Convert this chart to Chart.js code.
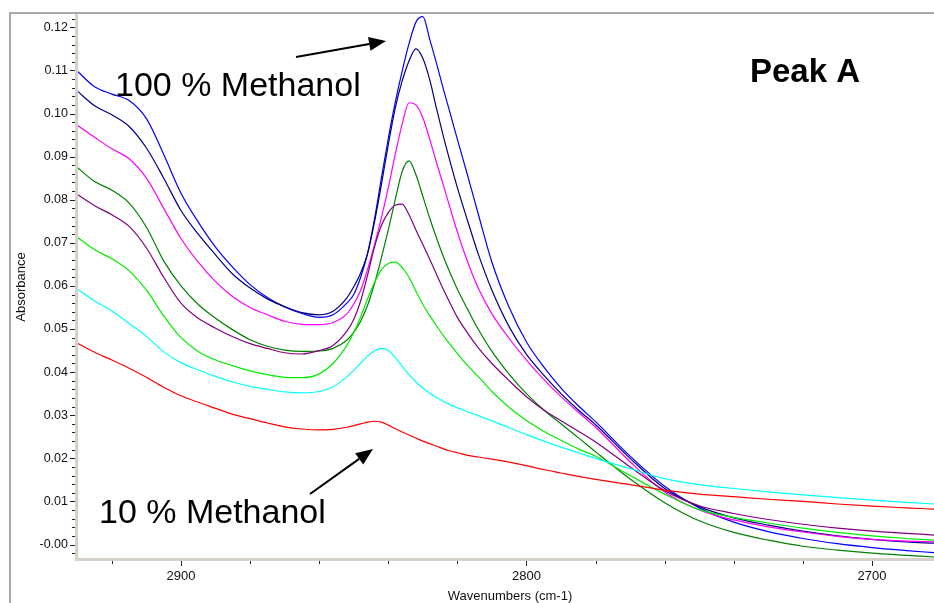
<!doctype html>
<html lang="en">
  <head>
    <meta charset="utf-8">
    <title>Peak A - Absorbance vs Wavenumbers</title>
    <style>
      * {
        margin: 0;
        padding: 0;
      }
      body {
        background: #fff;
      }
      .chartBox {
        width: 934px;
        height: 603px;
      }
    </style>
  </head>
  <body>
    <div class="chartBox">
      <canvas id="myChart"></canvas>
    </div>
    <script src="https://cdn.jsdelivr.net/npm/chart.js"></script>
    <script>
    // setup
    const wavenumbers = [2930, 2925, 2920, 2915, 2910, 2905, 2900, 2895, 2890, 2885, 2880, 2875, 2870, 2865, 2860, 2856, 2852,
      2850, 2848, 2846, 2844, 2842, 2840, 2838, 2836, 2834, 2832, 2830, 2828, 2826, 2824, 2822, 2820,
      2817, 2814, 2810, 2805, 2800, 2795, 2790, 2785, 2780, 2770, 2760, 2750, 2740, 2730, 2720, 2710, 2700, 2690, 2682];

    const absBlue = [0.1098, 0.1062, 0.1045, 0.1030, 0.0988, 0.0905, 0.0815, 0.0748, 0.0690, 0.0643, 0.0603, 0.0573, 0.0551, 0.0536, 0.0527, 0.0533, 0.0560,
      0.0580, 0.0620, 0.0675, 0.0755, 0.0850, 0.0942, 0.1025, 0.1098, 0.1162, 0.1212, 0.1225, 0.1172, 0.1115, 0.1055, 0.0998, 0.0940,
      0.0855, 0.0768, 0.0655, 0.0550, 0.0470, 0.0412, 0.0363, 0.0322, 0.0285, 0.0205, 0.0135, 0.0085, 0.0052, 0.0030, 0.0014, 0.0002, -0.0007, -0.0014, -0.0019];

    const absNavy = [0.1052, 0.1018, 0.0997, 0.0970, 0.0920, 0.0850, 0.0775, 0.0720, 0.0672, 0.0627, 0.0595, 0.0570, 0.0552, 0.0538, 0.0533, 0.0541, 0.0572,
      0.0598, 0.0630, 0.0675, 0.0748, 0.0835, 0.0928, 0.1012, 0.1075, 0.1122, 0.1150, 0.1128, 0.1078, 0.1010, 0.0945, 0.0885, 0.0828,
      0.0750, 0.0675, 0.0590, 0.0505, 0.0441, 0.0393, 0.0350, 0.0312, 0.0278, 0.0200, 0.0130, 0.0088, 0.0062, 0.0045, 0.0031, 0.0020, 0.0012, 0.0006, 0.0003];

    const absMagenta = [0.0973, 0.0945, 0.0918, 0.0895, 0.0850, 0.0780, 0.0710, 0.0655, 0.0610, 0.0575, 0.0550, 0.0533, 0.0518, 0.0511, 0.0510, 0.0515, 0.0535,
      0.0558, 0.0590, 0.0638, 0.0695, 0.0758, 0.0828, 0.0905, 0.0975, 0.1025, 0.1020, 0.0990, 0.0940, 0.0885, 0.0832, 0.0778, 0.0725,
      0.0655, 0.0596, 0.0535, 0.0478, 0.0428, 0.0383, 0.0343, 0.0307, 0.0272, 0.0192, 0.0122, 0.0080, 0.0057, 0.0041, 0.0029, 0.0019, 0.0012, 0.0008, 0.0006];

    const absDarkGreen = [0.0875, 0.0842, 0.0822, 0.0792, 0.0736, 0.0658, 0.0600, 0.0557, 0.0525, 0.0498, 0.0475, 0.0460, 0.0451, 0.0448, 0.0449, 0.0455, 0.0474,
      0.0492, 0.0518, 0.0555, 0.0605, 0.0665, 0.0730, 0.0800, 0.0865, 0.0890, 0.0858, 0.0808, 0.0757, 0.0710, 0.0667, 0.0628, 0.0592,
      0.0545, 0.0500, 0.0448, 0.0395, 0.0350, 0.0312, 0.0280, 0.0248, 0.0215, 0.0152, 0.0097, 0.0055, 0.0028, 0.0010, -0.0004, -0.0013, -0.0020, -0.0025, -0.0029];

    const absPurple = [0.0812, 0.0786, 0.0765, 0.0738, 0.0688, 0.0620, 0.0560, 0.0525, 0.0502, 0.0482, 0.0466, 0.0455, 0.0445, 0.0442, 0.0450, 0.0462, 0.0495,
      0.0522, 0.0565, 0.0625, 0.0690, 0.0740, 0.0770, 0.0787, 0.0790, 0.0765, 0.0730, 0.0696, 0.0662, 0.0626, 0.0591, 0.0558, 0.0527,
      0.0490, 0.0457, 0.0420, 0.0380, 0.0343, 0.0312, 0.0287, 0.0263, 0.0238, 0.0180, 0.0125, 0.0090, 0.0072, 0.0058, 0.0047, 0.0038, 0.0031, 0.0026, 0.0022];

    const absGreen = [0.0713, 0.0684, 0.0663, 0.0635, 0.0590, 0.0530, 0.0480, 0.0448, 0.0428, 0.0415, 0.0403, 0.0394, 0.0388, 0.0387, 0.0396, 0.0420, 0.0462,
      0.0492, 0.0528, 0.0570, 0.0608, 0.0637, 0.0652, 0.0655, 0.0643, 0.0620, 0.0588, 0.0557, 0.0531, 0.0507, 0.0484, 0.0463, 0.0443,
      0.0415, 0.0390, 0.0355, 0.0318, 0.0288, 0.0263, 0.0242, 0.0222, 0.0205, 0.0160, 0.0117, 0.0081, 0.0063, 0.0050, 0.0038, 0.0028, 0.0020, 0.0014, 0.0010];

    const absCyan = [0.0593, 0.0565, 0.0542, 0.0513, 0.0483, 0.0447, 0.0422, 0.0405, 0.0390, 0.0377, 0.0367, 0.0360, 0.0354, 0.0352, 0.0355, 0.0366, 0.0389,
      0.0404, 0.0421, 0.0437, 0.0449, 0.0455, 0.0450, 0.0434, 0.0414, 0.0394, 0.0377, 0.0363, 0.0351, 0.0341, 0.0332, 0.0324, 0.0317,
      0.0308, 0.0299, 0.0287, 0.0271, 0.0255, 0.0240, 0.0226, 0.0213, 0.0200, 0.0176, 0.0153, 0.0139, 0.0130, 0.0122, 0.0115, 0.0109, 0.0103, 0.0098, 0.0094];

    const absRed = [0.0467, 0.0446, 0.0428, 0.0409, 0.0388, 0.0365, 0.0345, 0.0330, 0.0316, 0.0302, 0.0292, 0.0282, 0.0273, 0.0268, 0.0266, 0.0267, 0.0272,
      0.0276, 0.0280, 0.0284, 0.0286, 0.0284, 0.0277, 0.0269, 0.0261, 0.0254, 0.0247, 0.0240, 0.0234, 0.0228, 0.0222, 0.0217, 0.0213,
      0.0207, 0.0203, 0.0198, 0.0191, 0.0183, 0.0174, 0.0166, 0.0158, 0.0151, 0.0139, 0.0126, 0.0117, 0.0111, 0.0105, 0.0100, 0.0094, 0.0089, 0.0085, 0.0082];

    const yTicks = [0.12, 0.11, 0.10, 0.09, 0.08, 0.07, 0.06, 0.05, 0.04, 0.03, 0.02, 0.01, 0.00];
    const yTickLabels = ['0.12', '0.11', '0.10', '0.09', '0.08', '0.07', '0.06', '0.05', '0.04', '0.03', '0.02', '0.01', '-0.00'];
    const xTicks = [2900, 2800, 2700];
    const xTickLabels = ['2900', '2800', '2700'];

    const seriesList = [
      { values: absRed, color: '#ff0000' },
      { values: absCyan, color: '#00ffff' },
      { values: absGreen, color: '#00ee00' },
      { values: absPurple, color: '#800080' },
      { values: absDarkGreen, color: '#008000' },
      { values: absMagenta, color: '#ff00ff' },
      { values: absNavy, color: '#000080' },
      { values: absBlue, color: '#0000ff' }
    ];

    const data = {
      datasets: seriesList.map(s => ({
        data: wavenumbers.map((w, i) => ({ x: w, y: s.values[i] })),
        borderColor: s.color,
        borderWidth: 1.2,
        pointRadius: 0,
        fill: false,
        cubicInterpolationMode: 'monotone'
      }))
    };

    const FONT = '"Liberation Sans", Arial, sans-serif';

    function arrow(ctx, x1, y1, x2, y2) {
      const ang = Math.atan2(y2 - y1, x2 - x1);
      const len = 17, half = 7;
      const bx = x2 - len * Math.cos(ang), by = y2 - len * Math.sin(ang);
      ctx.lineWidth = 2;
      ctx.beginPath();
      ctx.moveTo(x1, y1);
      ctx.lineTo(bx, by);
      ctx.stroke();
      ctx.beginPath();
      ctx.moveTo(x2, y2);
      ctx.lineTo(bx + half * Math.sin(ang), by - half * Math.cos(ang));
      ctx.lineTo(bx - half * Math.sin(ang), by + half * Math.cos(ang));
      ctx.closePath();
      ctx.fill();
    }

    // axes, frame and notes drawn over the plot
    const axesFrame = {
      id: 'axesFrame',
      afterDatasetsDraw(chart) {
        const { ctx, chartArea: a, scales: { x, y } } = chart;
        ctx.save();

        // outer frame
        ctx.strokeStyle = '#a8a8a8';
        ctx.lineWidth = 2;
        ctx.beginPath();
        ctx.moveTo(10, 603);
        ctx.lineTo(10, 13);
        ctx.lineTo(934, 13);
        ctx.stroke();

        // axis bands
        ctx.fillStyle = '#d6d2ca';
        ctx.fillRect(a.left - 2, a.top, 3, a.bottom - a.top + 2);
        ctx.fillRect(a.left - 2, a.bottom - 1, a.right - a.left + 2, 3);

        // y ticks
        ctx.strokeStyle = '#222';
        ctx.lineWidth = 1;
        for (let k = -1; k <= 61; k++) {
          const v = k * 0.002;
          const py = Math.round(y.getPixelForValue(v)) + 0.5;
          if (py < a.top || py > a.bottom) continue;
          const major = k % 5 === 0;
          ctx.beginPath();
          ctx.moveTo(a.left - (major ? 7 : 5), py);
          ctx.lineTo(a.left - 2, py);
          ctx.stroke();
        }
        ctx.fillStyle = '#111';
        ctx.font = '12.5px ' + FONT;
        ctx.textAlign = 'right';
        ctx.textBaseline = 'middle';
        yTicks.forEach((v, i) => {
          ctx.fillText(yTickLabels[i], a.left - 9, y.getPixelForValue(v));
        });

        // x ticks
        for (let w = 2920; w >= 2680; w -= 20) {
          const px = Math.round(x.getPixelForValue(w)) + 0.5;
          if (px < a.left || px > a.right) continue;
          const major = w % 100 === 0;
          ctx.beginPath();
          ctx.moveTo(px, a.bottom + 2);
          ctx.lineTo(px, a.bottom + (major ? 7 : 5));
          ctx.stroke();
        }
        ctx.font = '13px ' + FONT;
        ctx.textAlign = 'center';
        ctx.textBaseline = 'alphabetic';
        xTicks.forEach((v, i) => {
          ctx.fillText(xTickLabels[i], x.getPixelForValue(v), 580);
        });

        // axis titles
        ctx.font = '13px ' + FONT;
        ctx.fillText('Wavenumbers (cm-1)', 510, 600);
        ctx.save();
        ctx.translate(25, 287);
        ctx.rotate(-Math.PI / 2);
        ctx.fillText('Absorbance', 0, 0);
        ctx.restore();

        // notes
        ctx.fillStyle = '#000';
        ctx.strokeStyle = '#000';
        ctx.textAlign = 'left';
        ctx.font = '34px ' + FONT;
        ctx.fillText('100 % Methanol', 115, 96);
        ctx.fillText('10 % Methanol', 99, 523);
        ctx.font = 'bold 33px ' + FONT;
        ctx.fillText('Peak A', 750, 82);
        arrow(ctx, 296, 57, 386, 41);
        arrow(ctx, 310, 494, 373, 449);

        ctx.restore();
      }
    };

    // config
    const config = {
      type: 'line',
      data,
      options: {
        responsive: true,
        maintainAspectRatio: false,
        animation: false,
        layout: {
          padding: { left: 77, top: 14, right: 0, bottom: 44 }
        },
        plugins: {
          legend: { display: false },
          tooltip: { enabled: false }
        },
        scales: {
          x: {
            type: 'linear',
            reverse: true,
            min: 2682.05,
            max: 2930.1,
            display: false
          },
          y: {
            min: -0.00336,
            max: 0.12309,
            display: false
          }
        }
      },
      plugins: [axesFrame]
    };

    // render init block
    const myChart = new Chart(
      document.getElementById('myChart'),
      config
    );
    </script>
  </body>
</html>
